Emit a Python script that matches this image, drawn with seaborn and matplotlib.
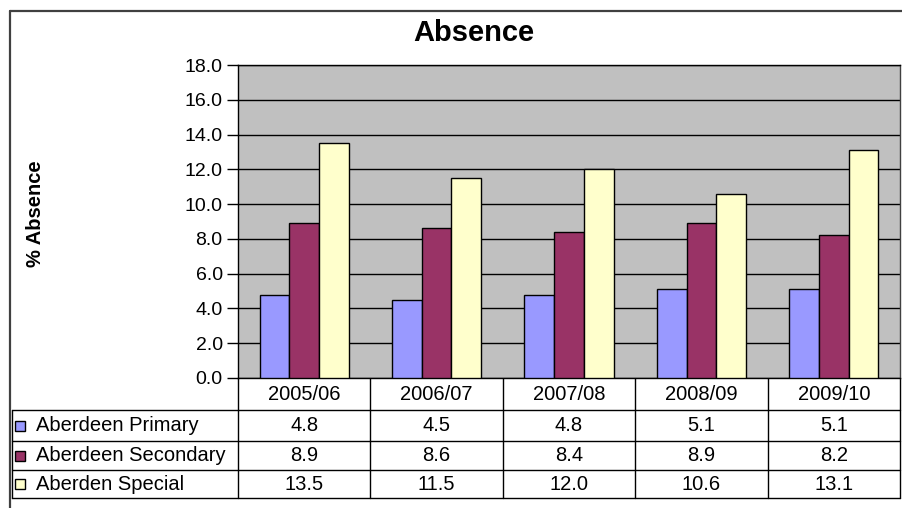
import matplotlib
matplotlib.use("Agg")
import matplotlib.pyplot as plt
from matplotlib.lines import Line2D
from matplotlib.patches import Rectangle
import matplotlib.transforms as mtransforms
import numpy as np
import pandas as pd
import seaborn as sns

# Absence rates by school type and session
years = ["2005/06", "2006/07", "2007/08", "2008/09", "2009/10"]
series = ["Aberdeen Primary", "Aberdeen Secondary", "Aberden Special"]
primary = [4.8, 4.5, 4.8, 5.1, 5.1]
secondary = [8.9, 8.6, 8.4, 8.9, 8.2]
special = [13.5, 11.5, 12.0, 10.6, 13.1]
colors = ["#9999FF", "#993366", "#FFFFCC"]
yticks = [0, 2, 4, 6, 8, 10, 12, 14, 16, 18]

values = [primary, secondary, special]
df = pd.DataFrame({
    "year": np.tile(years, len(series)),
    "series": np.repeat(series, len(years)),
    "value": np.concatenate(values),
})

sns.set_style("white")
plt.rcParams["font.family"] = ["Liberation Sans", "DejaVu Sans"]
plt.rcParams["text.color"] = "black"
plt.rcParams["ytick.color"] = "black"
plt.rcParams["ytick.labelcolor"] = "black"

W, H = 903, 508
fig = plt.figure(figsize=(W / 100, H / 100), dpi=100)

# overlay in pixel coordinates for frame and table
over = fig.add_axes([0, 0, 1, 1], zorder=0)
over.set_xlim(0, W)
over.set_ylim(H, 0)
over.axis("off")

left, right, top, bottom = 238, 900, 65, 378
ax = fig.add_axes([left / W, 1 - bottom / H, (right - left) / W, (bottom - top) / H], zorder=2)
ax.set_facecolor("#C0C0C0")

sns.barplot(data=df, x="year", y="value", hue="series", order=years, hue_order=series,
            palette=colors, width=0.674, gap=0, edgecolor="black", linewidth=1,
            saturation=1, ax=ax, zorder=3)
ax.legend_.remove()
ax.set_xlim(-0.5, len(years) - 0.5)
ax.set_ylim(0, 18)
ax.set_yticks(yticks)
ax.set_yticklabels([f"{v:.1f}" for v in yticks], fontsize=14, color="black")
ax.set_xticks([])
ax.set_xlabel("")
ax.set_ylabel("")
ax.yaxis.grid(True, color="black", linewidth=1)
ax.set_axisbelow(True)
ax.tick_params(axis="y", length=8, width=1, color="black", pad=3, left=True)
for s in ax.spines.values():
    s.set_visible(True)
    s.set_color("black")
    s.set_linewidth(1)
ax.spines["right"].set_color("#404040")

# outer chart frame
over.add_line(Line2D([10, 10], [11, H + 5], color="#404040", lw=1.6))
over.add_line(Line2D([10, W + 5], [11, 11], color="#404040", lw=1.6))

fig.text(474 / W, 1 - 33 / H, "Absence", ha="center", va="center",
         fontsize=21, fontweight="bold", color="black")
fig.text(36 / W, 1 - 214 / H, "% Absence", ha="center", va="center",
         rotation=90, fontsize=14.5, fontweight="bold", color="black")

# data table below the plot
blend = mtransforms.blended_transform_factory(ax.transData, over.transData)
row_y = [378, 410, 441, 470, 498]
tbl_left = 12
for y in row_y[1:]:
    over.add_line(Line2D([tbl_left, right], [y, y], color="black", lw=1))
over.add_line(Line2D([tbl_left, tbl_left], [row_y[1], row_y[-1]], color="black", lw=1))
for i in range(len(years) + 1):
    x = i - 0.5
    over.add_line(Line2D([x, x], [row_y[0], row_y[-1]], color="black", lw=1, transform=blend))

tfs = 14.5
for i, yr in enumerate(years):
    over.text(i, (row_y[0] + row_y[1]) / 2, yr, ha="center", va="center",
              fontsize=tfs, color="black", transform=blend)
for r, (name, vals, c) in enumerate(zip(series, values, colors)):
    yc = (row_y[r + 1] + row_y[r + 2]) / 2
    over.add_patch(Rectangle((15, yc - 5), 10, 10, facecolor=c, edgecolor="black", lw=1))
    over.text(36, yc, name, ha="left", va="center", fontsize=tfs, color="black")
    for i, v in enumerate(vals):
        over.text(i, yc, f"{v:.1f}", ha="center", va="center", fontsize=tfs,
                  color="black", transform=blend)

fig.savefig("out.png", dpi=100, facecolor="white")
